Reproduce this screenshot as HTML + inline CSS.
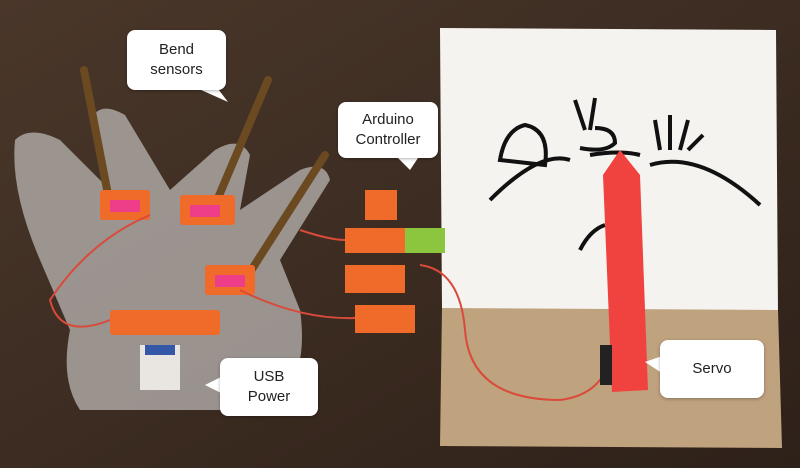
<!DOCTYPE html>
<html><head><meta charset="utf-8"><style>
html,body{margin:0;padding:0}
body{width:800px;height:468px;overflow:hidden;position:relative;background:#3b2b20;font-family:"Liberation Sans",sans-serif}
.lbl{position:absolute;background:#fff;border-radius:8px;color:#222;font-size:15px;line-height:20px;text-align:center;display:flex;align-items:center;justify-content:center;box-shadow:0 1px 3px rgba(0,0,0,.3)}
</style></head><body>
<svg width="800" height="468" style="position:absolute;left:0;top:0">
<defs><linearGradient id="w" x1="0" y1="0" x2="1" y2="1"><stop offset="0" stop-color="#4a372a"/><stop offset="1" stop-color="#2e2119"/></linearGradient></defs>
<rect width="800" height="468" fill="url(#w)"/>
<!-- paper -->
<polygon points="440,28 776,30 778,312 442,310" fill="#f4f3f0"/>
<!-- cardboard -->
<polygon points="442,308 778,310 782,448 440,446" fill="#bfa27e"/>
<!-- glove -->
<path d="M15,140 Q30,125 60,140 L110,190 L90,120 Q100,100 125,115 L170,190 L215,150 Q240,135 250,155 L240,210 L300,170 Q325,160 330,180 L280,260 L300,310 Q310,380 270,410 L80,410 Q60,380 70,330 L40,260 Q10,190 15,140Z" fill="#b9b6b3" opacity=".75"/>
<!-- bend sensors -->
<g stroke="#6b4a22" stroke-width="8" stroke-linecap="round"><line x1="84" y1="70" x2="110" y2="205"/><line x1="268" y1="80" x2="215" y2="205"/><line x1="325" y1="155" x2="245" y2="280"/></g>
<!-- modules on glove -->
<g fill="#f06a2a"><rect x="100" y="190" width="50" height="30" rx="3"/><rect x="180" y="195" width="55" height="30" rx="3"/><rect x="205" y="265" width="50" height="30" rx="3"/><rect x="110" y="310" width="110" height="25" rx="3"/></g>
<g fill="#ee3e8a"><rect x="110" y="200" width="30" height="12"/><rect x="190" y="205" width="30" height="12"/><rect x="215" y="275" width="30" height="12"/></g>
<rect x="140" y="345" width="40" height="45" fill="#e9e6e2"/><rect x="145" y="345" width="30" height="10" fill="#3457a8"/>
<!-- arduino modules -->
<g fill="#f06a2a"><rect x="365" y="190" width="32" height="30"/><rect x="345" y="228" width="60" height="25"/><rect x="345" y="265" width="60" height="28"/><rect x="355" y="305" width="60" height="28"/></g>
<rect x="405" y="228" width="40" height="25" fill="#8cc63f"/>
<!-- wires -->
<g fill="none" stroke="#d94a3a" stroke-width="2"><path d="M150,215 Q90,240 50,300 Q60,340 110,320"/><path d="M240,290 Q300,320 355,318"/><path d="M300,230 Q330,240 345,240"/><path d="M420,265 Q460,270 465,330 Q470,400 560,400 Q600,395 610,360"/></g>
<!-- hands drawing -->
<g fill="none" stroke="#111" stroke-width="4"><path d="M490,200 Q540,150 570,160"/><path d="M590,155 Q620,150 640,155"/><path d="M650,165 Q700,150 760,205"/><path d="M500,160 q5,-30 25,-35 q25,5 20,40 z"/><path d="M585,130 l-10,-30 m15,30 l5,-32 m0,30 q20,0 20,15 q-10,10 -35,5"/><path d="M660,150 l-5,-30 m15,30 l0,-35 m10,35 l8,-30 m0,30 l15,-15"/><path d="M580,250 q10,-20 25,-25"/></g>
<!-- red arrow -->
<polygon points="603,175 620,150 640,175 648,390 612,392" fill="#f0433f"/>
<rect x="600" y="345" width="12" height="40" fill="#222"/>
<!-- tails -->
<g fill="#fff"><polygon points="190,85 215,85 228,102"/><polygon points="395,155 420,155 410,170"/><polygon points="225,375 225,395 205,385"/><polygon points="665,355 665,375 645,362"/></g>
</svg>
<div class="lbl" style="left:127px;top:30px;width:99px;height:60px">Bend<br>sensors</div>
<div class="lbl" style="left:338px;top:102px;width:100px;height:56px">Arduino<br>Controller</div>
<div class="lbl" style="left:220px;top:358px;width:98px;height:58px">USB<br>Power</div>
<div class="lbl" style="left:660px;top:340px;width:104px;height:58px">Servo</div>
</body></html>
